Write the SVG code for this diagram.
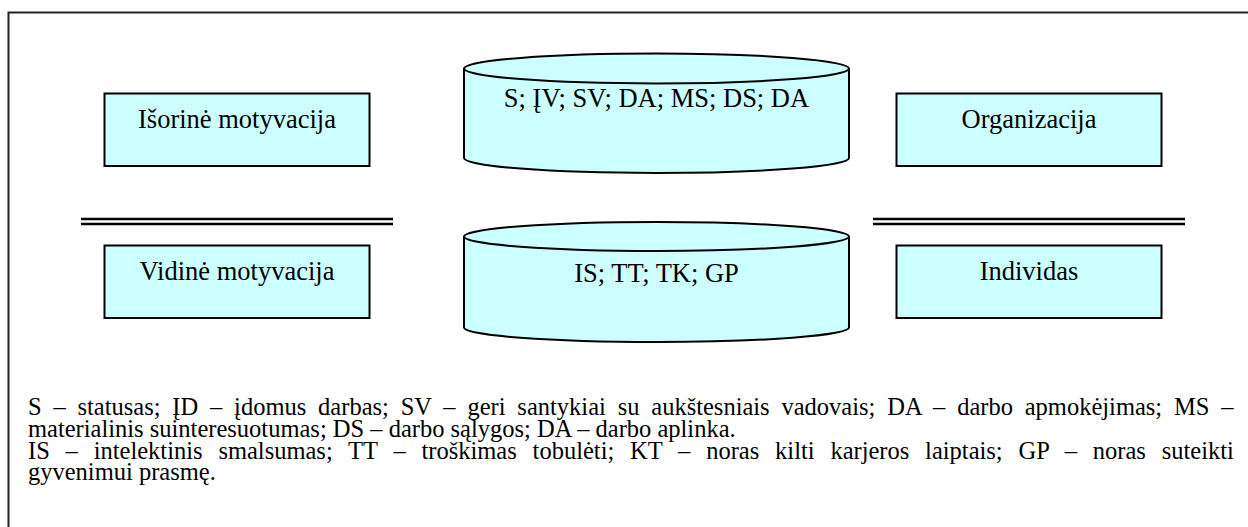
<svg xmlns="http://www.w3.org/2000/svg" width="1248" height="527" viewBox="0 0 1248 527">
<style>
.node{fill:#CCFFFF;stroke:#000;stroke-width:2}
.t{font-family:'Liberation Serif','Tinos','Times New Roman','DejaVu Serif',serif;font-size:26.5px;fill:#000;text-anchor:middle}
.leg{font-family:'Liberation Serif','Tinos','Times New Roman','DejaVu Serif',serif;font-size:24.5px;fill:#000}
.dbl{stroke:#000;stroke-width:2.5;fill:none}
</style>
<rect width="1248" height="527" fill="#fff"/>
<path d="M8.5,527 V12.5 H1248" fill="none" stroke="#222" stroke-width="2"/>
<g id="isorine">
<rect class="node" x="104.5" y="93.5" width="265" height="72.5"/>
<text class="t" x="237" y="128">Išorinė motyvacija</text>
</g>
<g id="cyl1">
<path class="node" d="M464,68.5 V158 A192.5,15 0 0 0 849,158 V68.5"/>
<ellipse class="node" cx="656.5" cy="68.5" rx="192.5" ry="15"/>
<text class="t" x="656.5" y="107">S; ĮV; SV; DA; MS; DS; DA</text>
</g>
<g id="organizacija">
<rect class="node" x="896.5" y="93.5" width="265" height="72.5"/>
<text class="t" x="1029" y="128">Organizacija</text>
</g>
<g id="separators">
<line class="dbl" x1="81" y1="219" x2="393" y2="219"/>
<line class="dbl" x1="81" y1="224" x2="393" y2="224"/>
<line class="dbl" x1="873" y1="219" x2="1185" y2="219"/>
<line class="dbl" x1="873" y1="224" x2="1185" y2="224"/>
</g>
<g id="vidine">
<rect class="node" x="104.5" y="245.5" width="265" height="72.5"/>
<text class="t" x="237" y="280">Vidinė motyvacija</text>
</g>
<g id="cyl2">
<path class="node" d="M464,236.5 V327.5 A192.5,14.5 0 0 0 849,327.5 V236.5"/>
<ellipse class="node" cx="656.5" cy="236.5" rx="192.5" ry="14.5"/>
<text class="t" x="656.5" y="282">IS; TT; TK; GP</text>
</g>
<g id="individas">
<rect class="node" x="896.5" y="245.5" width="265" height="72.5"/>
<text class="t" x="1029" y="280">Individas</text>
</g>
<g id="connectors"></g>
<g id="legend">
<text class="leg" x="28" y="415" word-spacing="5.7">S – statusas; ĮD – įdomus darbas; SV – geri santykiai su aukštesniais vadovais; DA – darbo apmokėjimas; MS –</text>
<text class="leg" x="28" y="437">materialinis suinteresuotumas; DS – darbo sąlygos; DA – darbo aplinka.</text>
<text class="leg" x="28" y="458.5" word-spacing="9.7">IS – intelektinis smalsumas; TT – troškimas tobulėti; KT – noras kilti karjeros laiptais; GP – noras suteikti</text>
<text class="leg" x="28" y="480">gyvenimui prasmę.</text>
</g>
</svg>
